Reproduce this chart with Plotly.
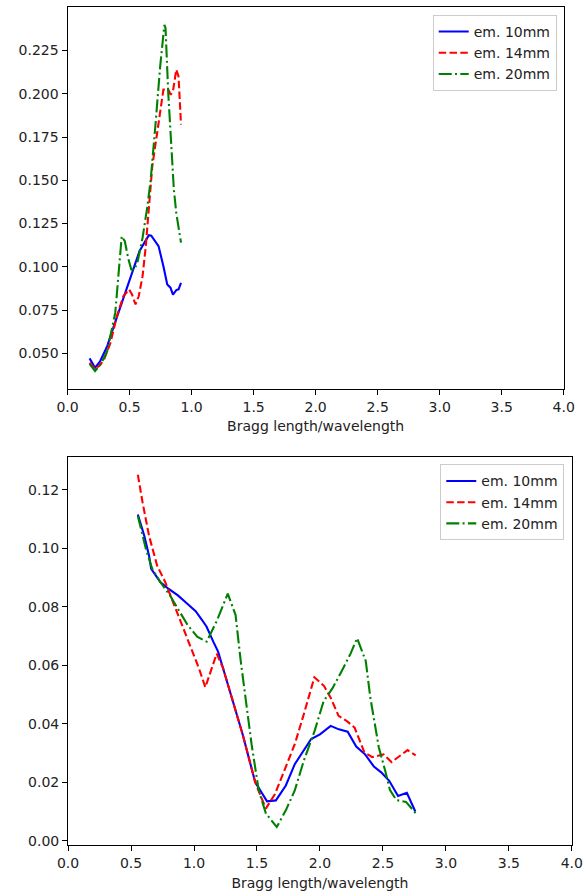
import plotly.graph_objects as go

# ---------------- data: top panel ----------------
top_x_10 = [0.178, 0.222, 0.26, 0.32, 0.37, 0.41, 0.46, 0.50, 0.54, 0.58, 0.62, 0.656, 0.675, 0.695, 0.734, 0.773, 0.804, 0.83, 0.85, 0.877, 0.895, 0.915]
top_y_10 = [0.0471, 0.0417, 0.0450, 0.0542, 0.0650, 0.0735, 0.0840, 0.0927, 0.1010, 0.1090, 0.1140, 0.1183, 0.1180, 0.1158, 0.1120, 0.1004, 0.0898, 0.0880, 0.0840, 0.0866, 0.0870, 0.0908]

top_x_14 = [0.178, 0.222, 0.26, 0.295, 0.346, 0.398, 0.45, 0.496, 0.52, 0.548, 0.574, 0.605, 0.631, 0.656, 0.683, 0.734, 0.773, 0.812, 0.832, 0.85, 0.877, 0.895, 0.915]
top_y_14 = [0.0446, 0.0410, 0.0430, 0.0465, 0.0560, 0.0715, 0.0830, 0.0870, 0.0840, 0.0783, 0.0830, 0.0946, 0.1120, 0.1330, 0.1580, 0.1830, 0.2024, 0.2024, 0.1995, 0.2015, 0.2140, 0.2100, 0.1822]

top_x_20 = [0.178, 0.222, 0.27, 0.32, 0.385, 0.41, 0.437, 0.462, 0.489, 0.514, 0.54, 0.566, 0.605, 0.644, 0.67, 0.708, 0.747, 0.781, 0.79, 0.812, 0.838, 0.857, 0.877, 0.915]
top_y_20 = [0.0440, 0.0398, 0.0440, 0.0513, 0.0735, 0.0927, 0.1177, 0.1148, 0.1050, 0.0985, 0.0985, 0.1033, 0.1168, 0.1350, 0.1500, 0.1812, 0.2159, 0.2399, 0.2380, 0.2005, 0.1700, 0.1450, 0.1310, 0.1140]

# ---------------- data: bottom panel ----------------
bot_x_10 = [0.554, 0.605, 0.643, 0.66, 0.70, 0.732, 0.796, 0.872, 0.949, 1.013, 1.064, 1.10, 1.153, 1.191, 1.23, 1.286, 1.386, 1.486, 1.58, 1.65, 1.729, 1.80, 1.87, 1.93, 2.0, 2.085, 2.15, 2.22, 2.288, 2.357, 2.428, 2.486, 2.55, 2.62, 2.69, 2.757]
bot_y_10 = [0.1116, 0.1043, 0.0975, 0.0930, 0.0905, 0.0885, 0.0862, 0.0839, 0.0810, 0.0785, 0.0755, 0.0732, 0.0681, 0.0647, 0.0591, 0.0511, 0.0364, 0.0200, 0.0135, 0.0138, 0.0189, 0.0262, 0.0310, 0.0348, 0.0364, 0.0393, 0.0381, 0.0373, 0.0322, 0.0296, 0.0254, 0.0234, 0.0205, 0.0153, 0.0164, 0.0100]

bot_x_14 = [0.554, 0.592, 0.643, 0.707, 0.771, 0.834, 0.898, 0.975, 1.038, 1.09, 1.18, 1.23, 1.286, 1.386, 1.486, 1.57, 1.643, 1.714, 1.80, 1.871, 1.956, 2.033, 2.086, 2.148, 2.214, 2.275, 2.352, 2.415, 2.505, 2.568, 2.629, 2.696, 2.76]
bot_y_14 = [0.1252, 0.1156, 0.1043, 0.0941, 0.0885, 0.0817, 0.0749, 0.0659, 0.0591, 0.0525, 0.0640, 0.0591, 0.0511, 0.0364, 0.0200, 0.0110, 0.0160, 0.0240, 0.0330, 0.0432, 0.0559, 0.0529, 0.0488, 0.0427, 0.0409, 0.0387, 0.0303, 0.0286, 0.0295, 0.0269, 0.0290, 0.0310, 0.0292]

bot_x_20 = [0.554, 0.618, 0.668, 0.732, 0.809, 0.885, 0.949, 1.025, 1.10, 1.178, 1.268, 1.33, 1.371, 1.457, 1.514, 1.571, 1.657, 1.729, 1.80, 1.871, 1.957, 2.029, 2.10, 2.171, 2.243, 2.295, 2.364, 2.40, 2.467, 2.517, 2.556, 2.607, 2.683, 2.76]
bot_y_20 = [0.1111, 0.0998, 0.0930, 0.0885, 0.0839, 0.0783, 0.0738, 0.0698, 0.0681, 0.0749, 0.0845, 0.0772, 0.0614, 0.0330, 0.0172, 0.0093, 0.0047, 0.0104, 0.0172, 0.0273, 0.0375, 0.0477, 0.0522, 0.0579, 0.0640, 0.0693, 0.0614, 0.0489, 0.0320, 0.0241, 0.0173, 0.0139, 0.0133, 0.0094]

series_names = ["em. 10mm", "em. 14mm", "em. 20mm"]
x_ticks = [0.0, 0.5, 1.0, 1.5, 2.0, 2.5, 3.0, 3.5, 4.0]
top_y_ticks = [0.050, 0.075, 0.100, 0.125, 0.150, 0.175, 0.200, 0.225]
bot_y_ticks = [0.00, 0.02, 0.04, 0.06, 0.08, 0.10, 0.12]
x_title = "Bragg length/wavelength"

colors = ["#0000ff", "#ff0000", "#008000"]
dashes = ["solid", "7.5px,3.3px", "13px,3.3px,2px,3.3px"]

fig = go.Figure()

top_sets = [(top_x_10, top_y_10), (top_x_14, top_y_14), (top_x_20, top_y_20)]
bot_sets = [(bot_x_10, bot_y_10), (bot_x_14, bot_y_14), (bot_x_20, bot_y_20)]

for i, (xs, ys) in enumerate(top_sets):
    fig.add_trace(go.Scatter(x=xs, y=ys, mode="lines", name=series_names[i],
                             line=dict(color=colors[i], width=2.1, dash=dashes[i]),
                             xaxis="x", yaxis="y", legend="legend"))
for i, (xs, ys) in enumerate(bot_sets):
    fig.add_trace(go.Scatter(x=xs, y=ys, mode="lines", name=series_names[i],
                             line=dict(color=colors[i], width=2.1, dash=dashes[i]),
                             xaxis="x2", yaxis="y2", legend="legend2"))

font_family = "DejaVu Sans"
axis_common = dict(showline=True, mirror=True, linecolor="#000000", linewidth=1,
                   ticks="outside", ticklen=5, tickwidth=1, tickcolor="#000000",
                   showgrid=False, zeroline=False,
                   tickfont=dict(family=font_family, size=14, color="#222222"))

legend_common = dict(bgcolor="rgba(255,255,255,0.8)", bordercolor="#cccccc", borderwidth=1,
                     font=dict(family=font_family, size=14, color="#222222"),
                     xanchor="right", yanchor="top", itemwidth=30, tracegroupgap=0)

fig.update_layout(
    width=586, height=893,
    margin=dict(l=0, r=0, t=0, b=0),
    paper_bgcolor="white", plot_bgcolor="white",
    font=dict(family=font_family, size=14, color="#222222"),
    xaxis=dict(domain=[0.1002, 0.9800], range=[0, 4], tickvals=x_ticks, tickformat=".1f",
               anchor="y", title=dict(text=x_title, standoff=7,
                                      font=dict(family=font_family, size=14, color="#222222")),
               **axis_common),
    yaxis=dict(domain=[0.5625, 0.9922], range=[0.0292, 0.2502], tickvals=top_y_ticks,
               tickformat=".3f", anchor="x", **axis_common),
    xaxis2=dict(domain=[0.1012, 0.9944], range=[0, 4], tickvals=x_ticks, tickformat=".1f",
                anchor="y2", title=dict(text=x_title, standoff=7,
                                        font=dict(family=font_family, size=14, color="#222222")),
                **axis_common),
    yaxis2=dict(domain=[0.0501, 0.4860], range=[-0.0016, 0.1311], tickvals=bot_y_ticks,
                tickformat=".2f", anchor="x2", **axis_common),
    legend=dict(x=0.9676, y=0.9832, **legend_common),
    legend2=dict(x=0.981, y=0.4782, **legend_common),
)

fig.write_html("out.html")
